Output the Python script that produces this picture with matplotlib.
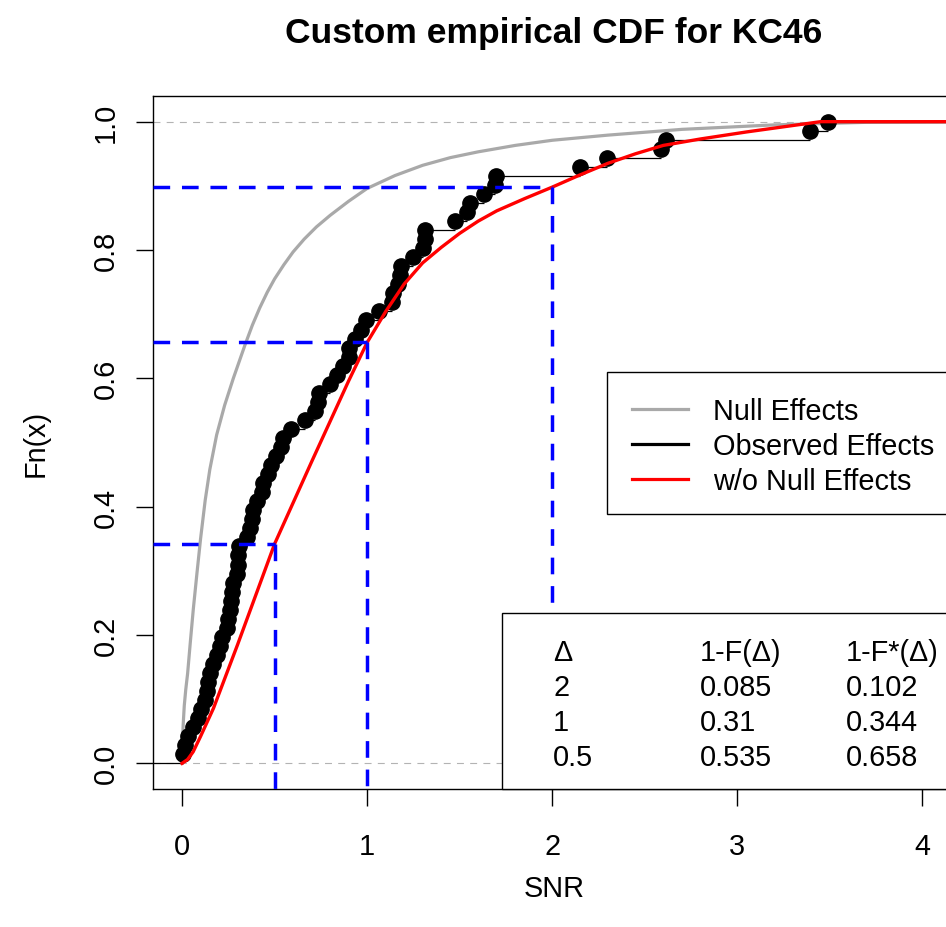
import matplotlib.pyplot as plt
import numpy as np

plt.rcParams['font.family'] = ['Liberation Sans', 'DejaVu Sans']
plt.rcParams['lines.scale_dashes'] = False

# observed SNR of the 71 effects (sorted)
snr_obs = [0.007, 0.016, 0.034, 0.061, 0.088, 0.105, 0.124, 0.133, 0.142, 0.151,
           0.169, 0.187, 0.205, 0.214, 0.241, 0.250, 0.259, 0.262, 0.268, 0.277,
           0.295, 0.302, 0.304, 0.306, 0.349, 0.367, 0.376, 0.384, 0.403, 0.430,
           0.438, 0.465, 0.483, 0.510, 0.537, 0.546, 0.591, 0.663, 0.717, 0.735,
           0.738, 0.800, 0.837, 0.870, 0.900, 0.902, 0.933, 0.969, 0.995, 1.064,
           1.135, 1.139, 1.166, 1.175, 1.184, 1.247, 1.301, 1.310, 1.315, 1.472,
           1.540, 1.556, 1.633, 1.690, 1.697, 2.151, 2.296, 2.587, 2.617, 3.395,
           3.490]

# cdf of the null effects
null_x = [0.0, 0.002, 0.006, 0.012, 0.02, 0.03, 0.045, 0.061, 0.08, 0.1,
          0.125, 0.15, 0.187, 0.23, 0.277, 0.34, 0.38, 0.42, 0.46, 0.5, 0.55,
          0.6, 0.66, 0.726, 0.8, 0.9, 1.0, 1.15, 1.3, 1.45, 1.6, 1.8, 2.0,
          2.3, 2.7, 3.2, 3.7, 4.5]
null_y = [0.0, 0.03, 0.06, 0.09, 0.115, 0.14, 0.19, 0.241, 0.295, 0.35,
          0.41, 0.458, 0.512, 0.558, 0.600, 0.652, 0.683, 0.710, 0.734, 0.755,
          0.777, 0.797, 0.817, 0.836, 0.854, 0.876, 0.896, 0.916, 0.932, 0.944,
          0.953, 0.963, 0.971, 0.979, 0.988, 0.995, 0.999, 1.0]

# cdf with the null effects removed
adj_x = [0.0, 0.03, 0.06, 0.10, 0.17, 0.30, 0.5, 0.7, 0.9, 1.0, 1.1, 1.2, 1.3,
         1.4, 1.5, 1.6, 1.7, 1.85, 2.0, 2.15, 2.3, 2.45, 2.6, 2.8, 3.05, 3.25,
         3.45, 3.6, 4.5]
adj_y = [0.0, 0.006, 0.018, 0.042, 0.086, 0.185, 0.342, 0.470, 0.596, 0.656,
         0.704, 0.747, 0.780, 0.804, 0.826, 0.845, 0.861, 0.880, 0.898, 0.917,
         0.935, 0.950, 0.963, 0.973, 0.984, 0.992, 1.0, 1.0, 1.0]

delta = [2, 1, 0.5]
surv_obs = [0.085, 0.31, 0.535]   # 1-F(delta)
surv_adj = [0.102, 0.344, 0.658]  # 1-F*(delta)

FS = 20.8

fig = plt.figure(figsize=(9.46, 9.28), dpi=100)
ax = fig.add_axes([153 / 946, 1 - 790 / 928, 802 / 946, 693 / 928])
ax.set_xlim(-0.157, 4.176)
ax.set_ylim(-0.04, 1.04)

# reference lines at 0 and 1
for h in (0, 1):
    ax.axhline(h, color='#b3b3b3', lw=0.8, ls=(0, (5, 4.5)), zorder=1)

ax.plot(null_x, null_y, color='#a9a9a9', lw=2.3, zorder=2)

# empirical cdf of the observed effects
xs = np.array(snr_obs)
n = len(xs)
ys = np.arange(1, n + 1) / n
x_next = np.append(xs[1:], 10)
ax.hlines(ys, xs, x_next, color='black', lw=0.9, zorder=3)
ax.hlines(0, -10, xs[0], color='black', lw=0.9, zorder=3)
ax.plot(xs, ys, 'o', color='black', ms=11, zorder=4)

ax.plot(adj_x, adj_y, color='red', lw=2.4, zorder=5)

# dashed guides at each delta
x0 = ax.get_xlim()[0]
y0 = ax.get_ylim()[0]
for d, s in zip(delta, surv_adj):
    f = 1 - s
    ax.plot([x0, d], [f, f], color='blue', lw=2.5, ls=(0, (12, 8.5)), zorder=6)
    ax.plot([d, d], [f, y0], color='blue', lw=2.5, ls=(0, (12, 8.5)), zorder=6)

# legend box
T = ax.transAxes
ax.add_patch(plt.Rectangle((0.5661, 0.3968), 0.6, 0.2049, transform=T,
                           facecolor='white', edgecolor='black', lw=1.0,
                           zorder=7, clip_on=False))
leg_items = [('Null Effects', '#a9a9a9'), ('Observed Effects', 'black'),
             ('w/o Null Effects', 'red')]
for k, (lab, col) in enumerate(leg_items):
    yc = 0.5483 - k * 0.0505
    ax.plot([0.5969, 0.6675], [yc, yc], color=col, lw=2.3, transform=T,
            zorder=8, clip_on=False)
    ax.text(0.6983, yc - 0.015, lab, transform=T, fontsize=FS, va='baseline',
            ha='left', zorder=8)

# table of tail probabilities
ax.add_patch(plt.Rectangle((0.4348, 0.0), 0.7, 0.254, transform=T,
                           facecolor='white', edgecolor='black', lw=1.0,
                           zorder=7, clip_on=False))
rows = [('Δ', '1-F(Δ)', '1-F*(Δ)')]
rows += [(str(d), str(a), str(b)) for d, a, b in zip(delta, surv_obs, surv_adj)]
col_x = [0.4988, 0.6820, 0.8641]
for r, row in enumerate(rows):
    yb = 0.1859 - r * 0.0502
    for cx, txt in zip(col_x, row):
        ax.text(cx, yb, txt, transform=T, fontsize=FS, va='baseline',
                ha='left', zorder=8)

ax.set_xticks([0, 1, 2, 3, 4])
ax.set_xticklabels(['0', '1', '2', '3', '4'])
ax.set_yticks([0, 0.2, 0.4, 0.6, 0.8, 1.0])
ax.set_yticklabels(['0.0', '0.2', '0.4', '0.6', '0.8', '1.0'], rotation=90,
                   va='center')
ax.tick_params(axis='both', direction='out', length=12, width=1.0,
               labelsize=FS)
ax.tick_params(axis='x', pad=19)
ax.tick_params(axis='y', pad=12)
for sp in ax.spines.values():
    sp.set_linewidth(1.0)

ax.set_xlabel('SNR', fontsize=FS, labelpad=10)
ax.set_ylabel('Fn(x)', fontsize=FS, labelpad=30)
ax.set_title('Custom empirical CDF for KC46', fontsize=25.5, fontweight='bold',
             pad=38.8)

fig.savefig('out.png', dpi=100)
